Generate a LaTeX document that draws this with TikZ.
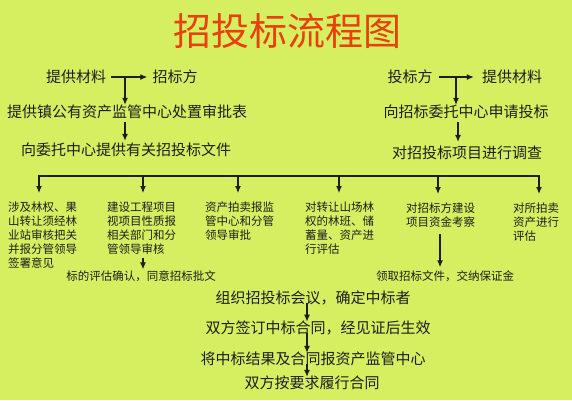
\documentclass[tikz,border=0pt]{standalone}
\usepackage{fontspec}
\newfontfamily\cjk{Noto Sans CJK SC}
\usetikzlibrary{arrows.meta}
\definecolor{bg}{RGB}{213,239,96}
\definecolor{titlered}{RGB}{232,64,14}
\definecolor{ink}{RGB}{30,30,30}
\begin{document}
\begin{tikzpicture}[x=1pt,y=-1pt,
  every node/.style={inner sep=0pt,text=ink},
  big/.style={font=\cjk\fontsize{15}{18}\selectfont},
  small/.style={font=\cjk\fontsize{11.5}{14}\selectfont,align=left},
  arr/.style={-{Latex[length=7pt,width=6pt]},line width=1.2pt,ink},
  bus/.style={line width=1.5pt,ink}]
\fill[bg] (0,0) rectangle (572,400);
\useasboundingbox (0,0) rectangle (572,400);
\node[font=\cjk\fontsize{38}{42}\selectfont,text=titlered] (title) at (287,31) {招投标流程图};
% left top
\node[big] (lA) at (76,77) {提供材料};
\node[big] (lB) at (175,77) {招标方};
\node[big] (lC) at (127,112) {提供镇公有资产监管中心处置审批表};
\node[big] (lD) at (126,150) {向委托中心提供有关招投标文件};
\draw[arr,shorten <=5pt,shorten >=5pt] (lA) -- (lB);
\coordinate (j1) at (125,77);
\draw[arr] (j1) -- (j1 |- lC.north);
\coordinate (j2) at (125,112);
\draw[arr,shorten <=3pt,shorten >=2pt] (j2 |- lC.south) -- (j2 |- lD.north);
% right top
\node[big] (rA) at (410,77) {投标方};
\node[big] (rB) at (512,77) {提供材料};
\node[big] (rC) at (466,112) {向招标委托中心申请投标};
\node[big] (rD) at (467,153) {对招投标项目进行调查};
\draw[arr,shorten <=6pt,shorten >=8pt] (rA) -- (rB);
\coordinate (k1) at (456,77);
\draw[arr] (k1) -- (k1 |- rC.north);
\coordinate (k2) at (458,112);
\draw[arr,shorten <=3pt,shorten >=4pt] (k2 |- rC.south) -- (k2 |- rD.north);
% bus
\coordinate (b1) at (39,176);
\coordinate (b2) at (143,176);
\coordinate (b3) at (238,176);
\coordinate (b4) at (339,176);
\coordinate (b5) at (438,176);
\coordinate (b6) at (539,176);
\draw[bus] (b1) -- (b6);
% columns
\node[small,anchor=north west] (c1) at (8,202) {涉及林权、果\\山转让须经林\\业站审核把关\\并报分管领导\\签署意见};
\node[small,anchor=north west] (c2) at (107,202) {建设工程项目\\视项目性质报\\相关部门和分\\管领导审核};
\node[small,anchor=north west] (c3) at (205,202) {资产拍卖报监\\管中心和分管\\领导审批};
\node[small,anchor=north west] (c4) at (305,202) {对转让山场林\\权的林班、储\\蓄量、资产进\\行评估};
\node[small,anchor=north west] (c5) at (406,203) {对招标方建设\\项目资金考察};
\node[small,anchor=north west] (c6) at (513,203) {对所拍卖\\资产进行\\评估};
\foreach \i in {1,...,6}{\draw[arr,shorten <=-0.7pt,shorten >=9pt] (b\i) -- (b\i |- c\i.north);}
% sub results
\node[small] (e1) at (141,276) {标的评估确认，同意招标批文};
\node[small] (e2) at (445,276) {领取招标文件，交纳保证金};
\coordinate (m1) at (143,250);
\draw[arr,shorten <=3pt,shorten >=1pt] (m1 |- c2.south) -- (m1 |- e1.north);
\coordinate (m2) at (440,250);
\draw[arr,shorten <=6pt,shorten >=3pt] (m2 |- c5.south) -- (m2 |- e2.north);
% bottom chain
\node[big] (f1) at (313,298) {组织招投标会议，确定中标者};
\node[big] (f2) at (318,328) {双方签订中标合同，经见证后生效};
\node[big] (f3) at (313,359) {将中标结果及合同报资产监管中心};
\node[big] (f4) at (312,383) {双方按要求履行合同};
\coordinate (n) at (307,300);
\draw[arr,shorten <=-2pt,shorten >=-1pt] (n |- f1.south) -- (n |- f2.north);
\draw[arr,shorten <=-2pt,shorten >=-1pt] (n |- f2.south) -- (n |- f3.north);
\draw[arr,shorten <=-2pt,shorten >=-1pt] (n |- f3.south) -- (n |- f4.north);
\end{tikzpicture}
\end{document}
